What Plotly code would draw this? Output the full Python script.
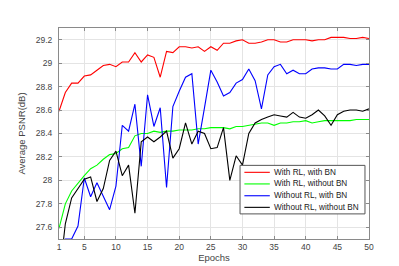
import plotly.graph_objects as go

epochs = list(range(1, 51))

series_names = ["With RL, with BN", "With RL, without BN", "Without RL, with BN", "Without RL, without BN"]
series_colors = ["#ff0000", "#00ff00", "#0000ff", "#000000"]

rl_bn = [28.59, 28.75, 28.83, 28.83, 28.89, 28.90, 28.94, 28.98, 28.99, 28.97,
         29.01, 29.01, 29.09, 29.01, 29.07, 29.05, 28.88, 29.10, 29.09, 29.14,
         29.14, 29.13, 29.14, 29.10, 29.14, 29.11, 29.17, 29.17, 29.19, 29.20,
         29.17, 29.17, 29.18, 29.20, 29.20, 29.18, 29.18, 29.20, 29.20, 29.20,
         29.19, 29.20, 29.20, 29.22, 29.22, 29.22, 29.21, 29.21, 29.22, 29.21]

rl_nobn = [27.59, 27.80, 27.91, 27.98, 28.04, 28.10, 28.13, 28.18, 28.22, 28.23,
           28.27, 28.28, 28.38, 28.40, 28.40, 28.42, 28.41, 28.42, 28.42, 28.43,
           28.43, 28.43, 28.44, 28.44, 28.45, 28.45, 28.45, 28.44, 28.46, 28.46,
           28.47, 28.48, 28.49, 28.49, 28.47, 28.49, 28.49, 28.50, 28.50, 28.51,
           28.49, 28.50, 28.51, 28.51, 28.51, 28.51, 28.51, 28.52, 28.52, 28.52]

norl_bn = [27.30, 27.50, 27.50, 27.61, 28.02, 27.86, 27.98, 27.87, 27.75, 27.95,
           28.47, 28.42, 28.65, 28.12, 28.73, 28.46, 28.62, 27.94, 28.63, 28.76,
           28.88, 28.91, 28.31, 28.62, 28.94, 28.84, 28.72, 28.75, 28.83, 28.86,
           28.95, 28.85, 28.61, 28.90, 28.97, 28.99, 28.91, 28.94, 28.91, 28.91,
           28.95, 28.96, 28.96, 28.95, 28.95, 28.99, 28.99, 28.98, 28.99, 28.99]

norl_nobn = [27.15, 27.63, 27.85, 27.93, 28.01, 28.03, 27.82, 27.93, 28.17, 28.25,
             28.04, 28.13, 27.72, 28.33, 28.37, 28.33, 28.37, 28.42, 28.19, 28.27,
             28.49, 28.31, 28.42, 28.40, 28.27, 28.28, 28.45, 28.00, 28.21, 28.13,
             28.40, 28.49, 28.52, 28.54, 28.56, 28.55, 28.54, 28.58, 28.54, 28.53,
             28.56, 28.60, 28.55, 28.47, 28.56, 28.59, 28.60, 28.60, 28.59, 28.61]

all_series = [rl_bn, rl_nobn, norl_bn, norl_nobn]

x_ticks = [1, 5, 10, 15, 20, 25, 30, 35, 40, 45, 50]
y_ticks = [27.6, 27.8, 28.0, 28.2, 28.4, 28.6, 28.8, 29.0, 29.2]
y_tick_labels = ["27.6", "27.8", "28", "28.2", "28.4", "28.6", "28.8", "29", "29.2"]

FONT = "Liberation Sans, Arial, sans-serif"
TXT = "#444444"

fig = go.Figure()
for name, color, vals in zip(series_names, series_colors, all_series):
    fig.add_trace(go.Scatter(x=epochs, y=vals, mode="lines", name=name,
                             line=dict(color=color, width=1.1), showlegend=False))

axis_common = dict(showline=True, linecolor="#8a8a8a", linewidth=1, mirror="ticks",
                   ticks="inside", ticklen=3, tickcolor="#8a8a8a",
                   showgrid=True, gridcolor="#e4e4e4", gridwidth=1, zeroline=False,
                   tickfont=dict(family=FONT, size=8.5, color=TXT))

fig.update_xaxes(range=[1, 50], tickvals=x_ticks, ticktext=[str(v) for v in x_ticks],
                 title=dict(text="Epochs", font=dict(family=FONT, size=9.5, color=TXT), standoff=3),
                 **axis_common)
fig.update_yaxes(range=[27.5, 29.3], tickvals=y_ticks, ticktext=y_tick_labels,
                 ticklabelstandoff=4,
                 title=dict(text="Average PSNR(dB)", font=dict(family=FONT, size=9.5, color=TXT), standoff=8),
                 **axis_common)

# Compact legend box (MATLAB-style) in paper coordinates
lx0, lx1, ly0, ly1 = 0.584, 0.987, 0.119, 0.349
fig.add_shape(type="rect", xref="paper", yref="paper", x0=lx0, x1=lx1, y0=ly0, y1=ly1,
              line=dict(color="#555555", width=1), fillcolor="white", layer="above")
row_y = [0.316, 0.261, 0.205, 0.150]
for name, color, ry in zip(series_names, series_colors, row_y):
    fig.add_shape(type="line", xref="paper", yref="paper", x0=0.598, x1=0.680, y0=ry, y1=ry,
                  line=dict(color=color, width=1.1), layer="above")
    fig.add_annotation(x=0.690, y=ry, xref="paper", yref="paper", text=name, showarrow=False,
                       xanchor="left", yanchor="middle", borderpad=0,
                       font=dict(family=FONT, size=8.2, color="#222222"))

fig.update_layout(width=399, height=266, margin=dict(l=51, r=38, t=20, b=29),
                  paper_bgcolor="white", plot_bgcolor="white", showlegend=False)

fig.write_html("out.html")
